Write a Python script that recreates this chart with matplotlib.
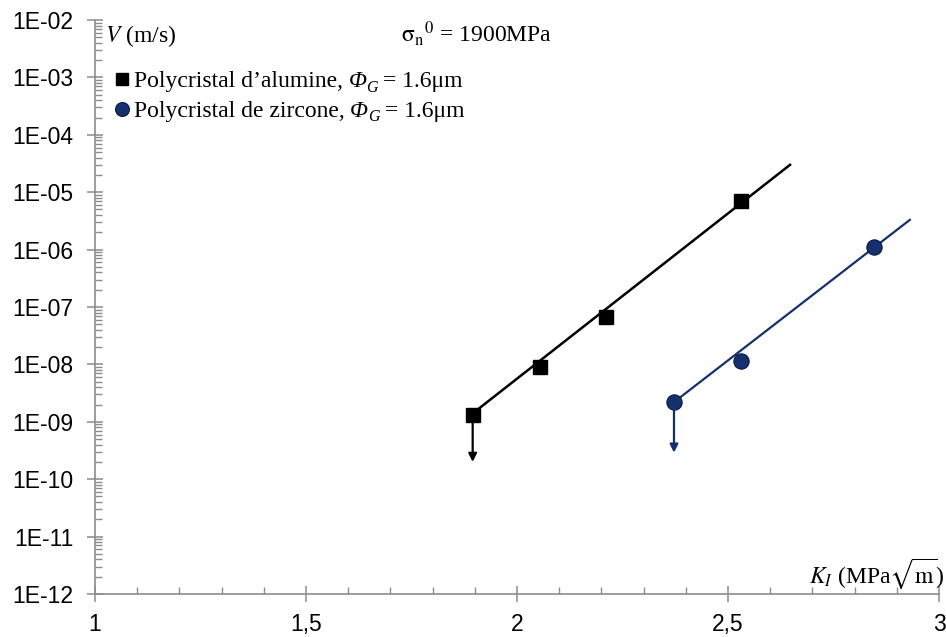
import math
import numpy as np
import matplotlib
matplotlib.use("Agg")
import matplotlib.pyplot as plt
from matplotlib.ticker import FixedLocator, FuncFormatter, MultipleLocator, LogLocator, NullFormatter
from matplotlib.lines import Line2D

# data
ki_alumine = [1.895, 2.054, 2.212, 2.530]
v_alumine = [1.3e-9, 9.1e-9, 6.8e-8, 7.0e-6]
fit_alumine_k = [1.895, 2.647]
fit_alumine_v = [1.4e-9, 3.0e-5]
arrow_alumine = (1.895, 1.3e-9, 2.0e-10)

ki_zircone = [2.372, 2.530, 2.846]
v_zircone = [2.2e-9, 1.15e-8, 1.1e-6]
fit_zircone_k = [2.372, 2.931]
fit_zircone_v = [2.2e-9, 3.3e-6]
arrow_zircone = (2.372, 2.2e-9, 2.9e-10)

navy = "#16306e"
grey = "#8c8c8c"

plt.rcParams["mathtext.fontset"] = "stix"
serif = "Liberation Serif"
sans = "Liberation Sans"
fs = 17

fig = plt.figure(figsize=(9.46, 6.37), dpi=100)
ax = fig.add_axes([0.1004, 0.0675, 0.8922, 0.9011])

ax.plot(fit_alumine_k, fit_alumine_v, color="black", lw=1.8, zorder=2)
ax.plot(ki_alumine, v_alumine, ls="none", marker="s", ms=10.5, color="black", zorder=3)
ax.plot(fit_zircone_k, fit_zircone_v, color=navy, lw=1.6, zorder=2)
ax.plot(ki_zircone, v_zircone, ls="none", marker="o", ms=11, color=navy,
        mec="#0a1a40", mew=0.8, zorder=3)

for (x, y0, y1), c in [(arrow_alumine, "black"), (arrow_zircone, navy)]:
    ax.annotate("", xy=(x, y1), xytext=(x, y0),
                arrowprops=dict(arrowstyle="-|>", color=c, lw=1.6,
                                mutation_scale=12, shrinkA=0, shrinkB=0))

ax.set_yscale("log")
ax.set_xlim(1, 3)
ax.set_ylim(1e-12, 1e-2)

ax.xaxis.set_major_locator(MultipleLocator(0.5))
ax.xaxis.set_minor_locator(MultipleLocator(0.1))
ax.xaxis.set_major_formatter(FuncFormatter(lambda v, p: f"{v:g}".replace(".", ",")))
ax.yaxis.set_major_locator(FixedLocator([10.0 ** e for e in range(-12, -1)]))
ax.yaxis.set_minor_locator(LogLocator(base=10, subs=np.arange(2, 10), numticks=100))
ax.yaxis.set_minor_formatter(NullFormatter())
ax.yaxis.set_major_formatter(FuncFormatter(
    lambda v, p: "1E-%02d" % round(-math.log10(v))))

for s in ["top", "right"]:
    ax.spines[s].set_visible(False)
for s in ["left", "bottom"]:
    ax.spines[s].set_color(grey)
    ax.spines[s].set_linewidth(1.2)

ax.tick_params(which="major", direction="inout", length=11, width=1.1, color=grey,
               labelsize=16.5)
ax.tick_params(which="minor", direction="in", length=5, width=1.0, color=grey)
ax.tick_params(axis="y", which="major", pad=10)
ax.tick_params(axis="x", which="major", pad=8)
for lab in ax.get_xticklabels() + ax.get_yticklabels():
    lab.set_fontfamily(sans)

ax.text(0.012, 0.962, "$V$ (m/s)", transform=ax.transAxes, family=serif,
        fontsize=fs, va="baseline", ha="left")
ax.text(0.363, 0.962, r"$\mathrm{\sigma_n}^{0}$ = 1900MPa", transform=ax.transAxes,
        family=serif, fontsize=fs, va="baseline", ha="left")
ax.text(1.007, 0.02, r"$K_I$ (MPa$\sqrt{\mathrm{m}}$)", transform=ax.transAxes,
        family=serif, fontsize=fs, va="baseline", ha="right")

handles = [
    Line2D([], [], ls="none", marker="s", ms=8.8, color="black"),
    Line2D([], [], ls="none", marker="o", ms=10, color=navy, mec="#0a1a40", mew=0.8),
]
labels = ["Polycristal d’alumine,", "Polycristal de zircone,"]
leg = ax.legend(handles, labels, loc="upper left", bbox_to_anchor=(0.0, 0.94),
                frameon=False, handlelength=0.9, handletextpad=0.05, borderaxespad=0.3,
                labelspacing=0.33, prop={"family": serif, "size": fs})

# rest of each legend label: italic Phi, subscript G, value
# (zorder above the legend so the legend is laid out first)
for t in leg.get_texts():
    phi = ax.annotate("Φ", xy=(1, 0), xycoords=t, xytext=(4, 0), textcoords="offset points",
                      ha="left", va="bottom", family=serif, style="italic", fontsize=fs,
                      zorder=10)
    sub = ax.annotate("G", xy=(1, 0), xycoords=phi, xytext=(0, -2.5), textcoords="offset points",
                      ha="left", va="bottom", family=serif, style="italic", fontsize=11.5,
                      zorder=11)
    ax.annotate("= 1.6μm", xy=(1, 0), xycoords=sub, xytext=(3.5, 2.5), textcoords="offset points",
                ha="left", va="bottom", family=serif, fontsize=fs, zorder=12)

fig.savefig("out.png", dpi=100)
